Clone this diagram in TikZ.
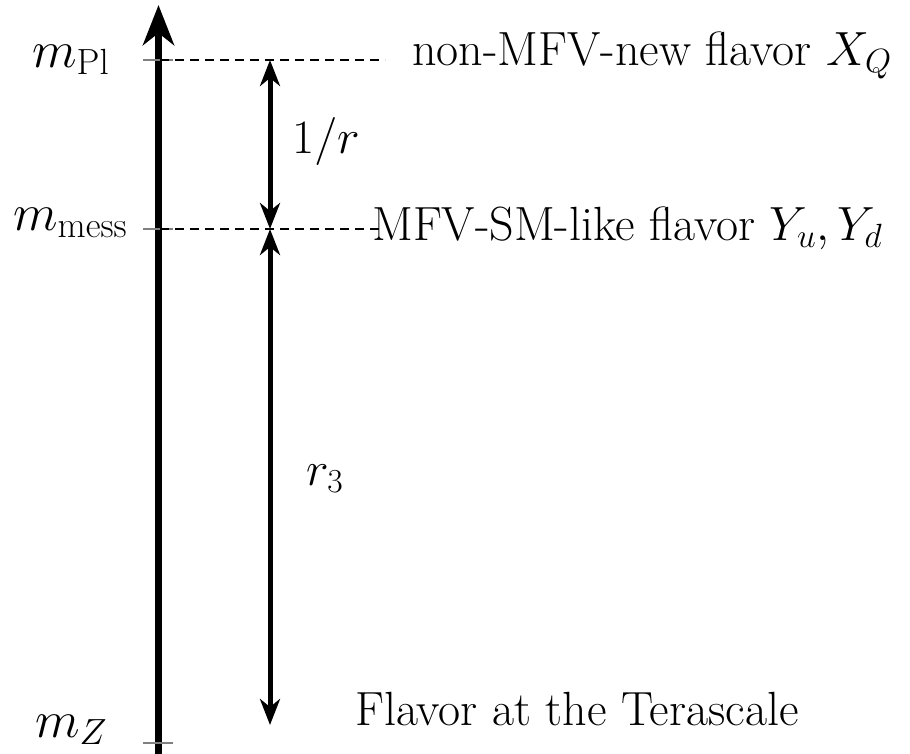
\RequirePackage{fix-cm}
\documentclass[tikz,border=0pt]{standalone}
\usetikzlibrary{arrows.meta}
\begin{document}
\begin{tikzpicture}[x=1pt,y=-1pt,
  txt/.style={inner sep=0pt,font=\fontsize{48}{56}\selectfont},
  lbl/.style={inner sep=0pt,font=\fontsize{52}{60}\selectfont},
  tickline/.style={gray,line width=1.2pt},
  dashline/.style={line width=2pt,dash pattern=on 9pt off 6pt},
  axisline/.style={line width=7pt,-{Stealth[length=40pt,width=31pt,inset=12pt]}},
  spanline/.style={line width=5pt,{Stealth[length=26pt,width=20pt,inset=8pt]}-{Stealth[length=26pt,width=20pt,inset=8pt]}}]
\useasboundingbox (0,0) rectangle (910,753);
% axis
\coordinate (ab) at (158.5,760);
\coordinate (at) at (158.5,5);
\draw[axisline] (ab) -- (at);
% ticks
\coordinate (t1a) at (143,60);  \coordinate (t1b) at (173,60);
\coordinate (t2a) at (143,229); \coordinate (t2b) at (173,229);
\coordinate (t3a) at (143,743); \coordinate (t3b) at (173,743);
\draw[tickline] (t1a) -- (t1b);
\draw[tickline] (t2a) -- (t2b);
\draw[tickline] (t3a) -- (t3b);
% labels left
\node[lbl,anchor=base west] (lpl) at (32,67) {$m_{\mathrm{Pl}}$};
\node[lbl,anchor=base west] (lmess) at (13,230) {$m_{\mathrm{mess}}$};
\node[lbl,anchor=base west] (lz) at (35,737) {$m_Z$};
% right texts
\node[txt,anchor=base west] (xq) at (412,65) {non-MFV-new flavor $X_Q$};
\node[txt,anchor=base west] (yud) at (372,240) {MFV-SM-like flavor $Y_u, Y_d$};
\node[txt,anchor=base west] (tera) at (355,725) {Flavor at the Terascale};
% dashed lines
\coordinate (d1a) at (160,60);  \coordinate (d1b) at (385,60);
\coordinate (d2a) at (160,229); \coordinate (d2b) at (380,229);
\draw[dashline] (d1a) -- (d1b);
\draw[dashline] (d2a) -- (d2b);
% span arrows
\coordinate (s1) at (270,60);
\coordinate (s2) at (270,229);
\coordinate (s3) at (270,725);
\draw[spanline] (s1) -- (s2);
\draw[spanline] (s2) -- (s3);
\node[txt,anchor=base west] (inv) at (292,153) {$1/r$};
\node[txt,anchor=base west] (r3) at (306,485) {$r_3$};
\end{tikzpicture}
\end{document}
